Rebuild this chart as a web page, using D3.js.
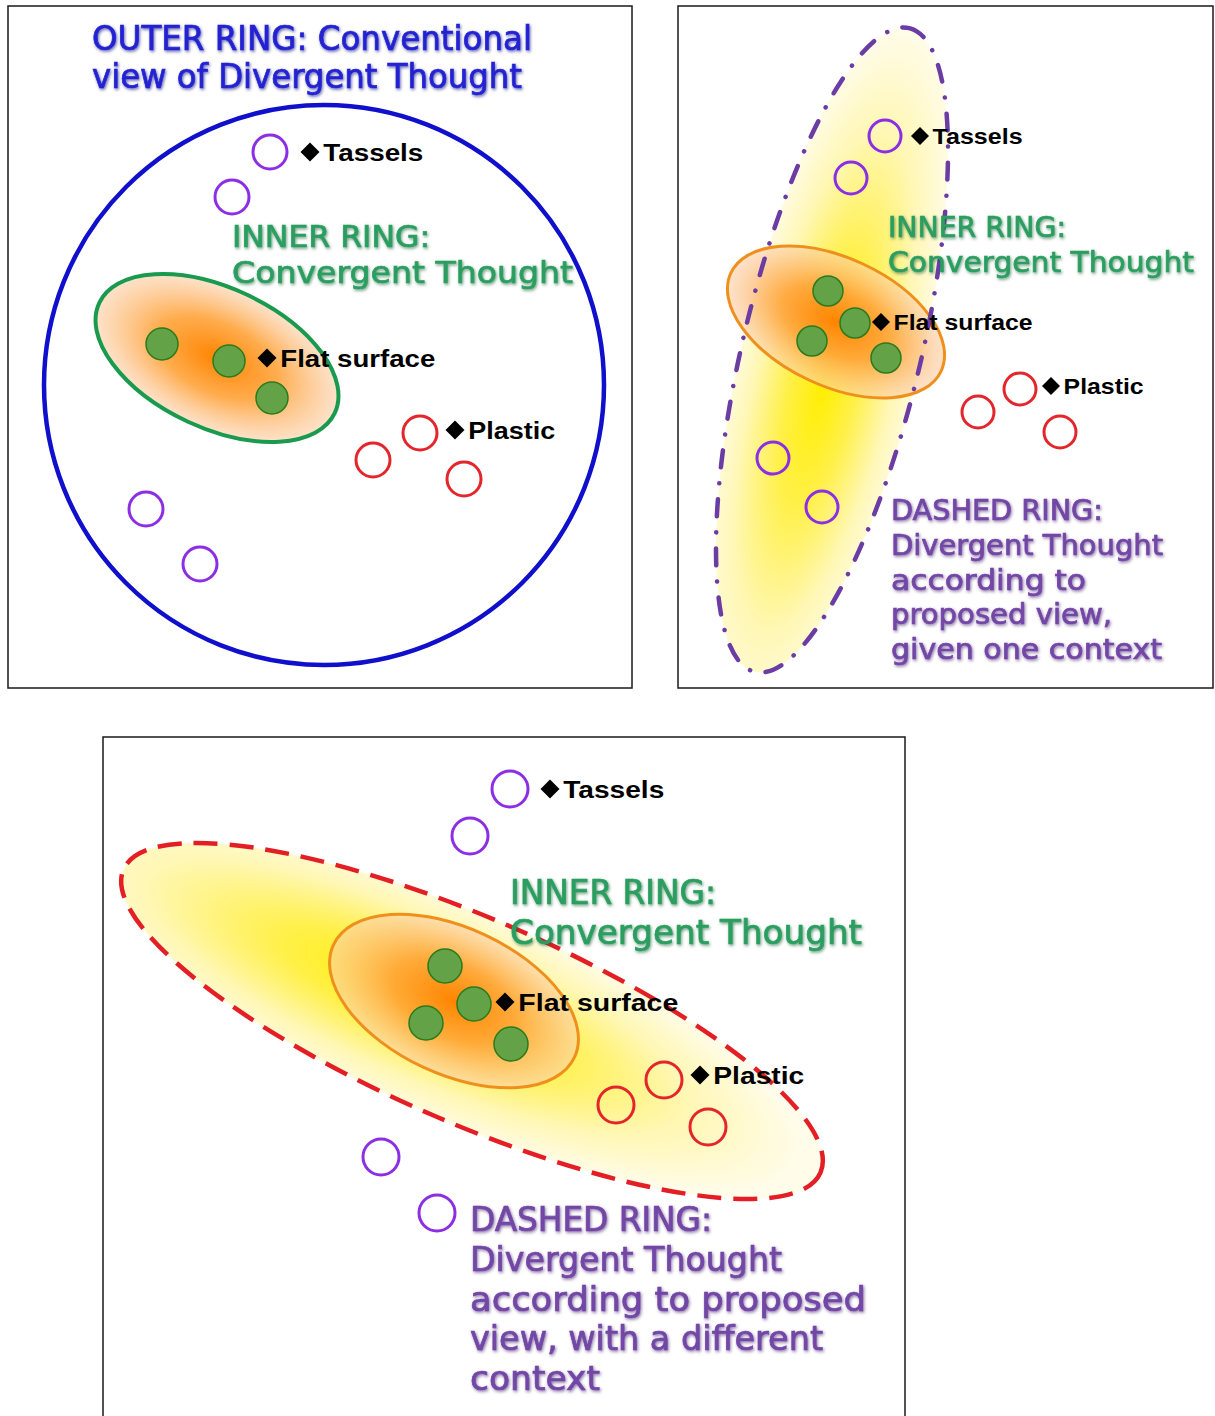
<!DOCTYPE html>
<html>
<head>
<meta charset="utf-8">
<script src="https://cdn.jsdelivr.net/npm/d3@7"></script>
<style>
  body { margin: 0; background: #fff; overflow: hidden; }
</style>
</head>
<body>
<svg id="chart"></svg>
<script>
// Divergent vs convergent thought, three panels

// ---- data (panel-local units) ----
var wordNames = ["Tassels", "Flat surface", "Plastic"];

// panel 1 : conventional view
var p1Tassels = [[262,146],[224,191],[138,503],[192,558]];
var p1Flat    = [[154,338],[221,355],[264,392]];
var p1Plastic = [[412,427],[365,454],[456,473]];
var p1Marks   = [[302,146],[259,352],[447,424]];   // diamond anchors
var p1Outer   = [316,379,280,280,0];                // cx, cy, rx, ry, angle
var p1Inner   = [209,352,130,70,25];

// panel 2 : proposed view, one context
var p2Tassels = [[207,130],[173,172],[95,452],[144,501]];
var p2Flat    = [[150,285],[177,317],[134,335],[208,352]];
var p2Plastic = [[342,383],[300,406],[382,426]];
var p2Marks   = [[242,130],[203,316],[373,380]];
var p2Dashed  = [154,344,331,89,-76.5];
var p2Inner   = [158,316,116,64,25];

// panel 3 : proposed view, different context
var p3Tassels = [[407,52],[367,99],[278,420],[334,476]];
var p3Flat    = [[342,229],[371,267],[323,286],[408,307]];
var p3Plastic = [[561,343],[513,368],[605,390]];
var p3Marks   = [[447,52],[402,265],[597,338]];
var p3Dashed  = [369,284,380,102,23.5];
var p3Inner   = [351,264,133,73,25];

var outerText  = ["OUTER RING: Conventional", "view of Divergent Thought"];
var innerText  = ["INNER RING:", "Convergent Thought"];
var dashedP2   = ["DASHED RING:", "Divergent Thought", "according to", "proposed view,", "given one context"];
var dashedP3   = ["DASHED RING:", "Divergent Thought", "according to proposed", "view, with a different", "context"];

// ---- layout ----
var W = 1215, H = 1416;
var svg = d3.select("#chart").attr("width", W).attr("height", H);
var defs = svg.append("defs");

var blue = "#2323d2", green = "#2c9e60", purple = "#7246a6";

function shadow(id, col) {
    var f = defs.append("filter").attr("id", id)
        .attr("x", "-5%").attr("y", "-25%").attr("width", "110%").attr("height", "150%");
    f.append("feGaussianBlur").attr("in", "SourceGraphic").attr("stdDeviation", 0.6).attr("result", "soft");
    f.append("feDropShadow").attr("in", "soft")
        .attr("dx", 1).attr("dy", 1.5).attr("stdDeviation", 1.6)
        .attr("flood-color", col).attr("flood-opacity", 0.6);
}
shadow("shBlue", "#00007a");
shadow("shGreen", "#0a5a2a");
shadow("shPurple", "#3a1a6a");

function yellowGrad(id, cx) {
    var g = defs.append("radialGradient").attr("id", id)
        .attr("cx", cx).attr("cy", 0.5).attr("r", 0.55);
    g.append("stop").attr("offset", "0%").attr("stop-color", "#ffee00");
    g.append("stop").attr("offset", "35%").attr("stop-color", "#fff04a");
    g.append("stop").attr("offset", "70%").attr("stop-color", "#fff7b4");
    g.append("stop").attr("offset", "100%").attr("stop-color", "#fffcea");
}
yellowGrad("yellow2", 0.45);
yellowGrad("yellow3", 0.42);

var ora = defs.append("radialGradient").attr("id", "orangeFill")
    .attr("cx", 0.5).attr("cy", 0.5).attr("r", 0.55);
ora.append("stop").attr("offset", "0%").attr("stop-color", "#ff8400");
ora.append("stop").attr("offset", "45%").attr("stop-color", "#ffa33a").attr("stop-opacity", 0.9);
ora.append("stop").attr("offset", "100%").attr("stop-color", "#fbd9bf").attr("stop-opacity", 0.55);

function panel(x0, y0, w, h) {
    var g = svg.append("g");
    g.sx = d3.scaleLinear().domain([0, w]).range([x0, x0 + w]);
    g.sy = d3.scaleLinear().domain([0, h]).range([y0, y0 + h]);
    g.append("rect").attr("x", x0).attr("y", y0).attr("width", w).attr("height", h)
        .attr("fill", "#fff").attr("stroke", "#1a1a1a").attr("stroke-width", 1.5);
    return g;
}

function ring(g, e, fill, stroke, sw, dash, cap) {
    var len = g.sx(1) - g.sx(0);
    g.append("ellipse")
        .attr("transform", "translate(" + g.sx(e[0]) + "," + g.sy(e[1]) + ") rotate(" + e[4] + ")")
        .attr("rx", e[2] * len).attr("ry", e[3] * len)
        .attr("fill", fill).attr("stroke", stroke).attr("stroke-width", sw)
        .attr("stroke-dasharray", dash).attr("stroke-linecap", cap || "butt");
}

function dots(g, pts, r, fill, stroke, sw) {
    g.selectAll(null).data(pts).enter().append("circle")
        .attr("cx", function(d) { return g.sx(d[0]); })
        .attr("cy", function(d) { return g.sy(d[1]); })
        .attr("r", r).attr("fill", fill).attr("stroke", stroke).attr("stroke-width", sw);
}

function marks(g, pts, size, widths) {
    var sym = d3.symbol().type(d3.symbolSquare).size(size * size / 2);
    g.selectAll(null).data(pts).enter().append("path")
        .attr("d", sym)
        .attr("transform", function(d) { return "translate(" + g.sx(d[0]) + "," + g.sy(d[1]) + ") rotate(45)"; })
        .attr("fill", "#000");
    g.selectAll(null).data(pts).enter().append("text")
        .attr("x", function(d) { return g.sx(d[0]) + size * 0.7; })
        .attr("y", function(d) { return g.sy(d[1]) + size * 0.45; })
        .attr("font-family", "'Liberation Sans', Arial, sans-serif")
        .attr("font-weight", "bold")
        .attr("font-size", size * 1.27)
        .attr("textLength", function(d, i) { return widths[i]; })
        .attr("lengthAdjust", "spacingAndGlyphs")
        .attr("fill", "#000")
        .text(function(d, i) { return wordNames[i]; });
}

function block(g, lines, x, y, step, size, col, filt, widths) {
    g.selectAll(null).data(lines).enter().append("text")
        .attr("x", g.sx(x))
        .attr("y", function(d, i) { return g.sy(y + i * step); })
        .attr("font-family", "'DejaVu Sans', sans-serif")
        .attr("font-size", size)
        .attr("fill", col)
        .attr("stroke", col)
        .attr("stroke-width", 0.7)
        .attr("filter", "url(#" + filt + ")")
        .attr("textLength", function(d, i) { return widths[i]; })
        .attr("lengthAdjust", "spacingAndGlyphs")
        .text(function(d) { return d; });
}

var purpleRing = "#8c2fe4", redRing = "#e3262b";
var dotFill = "#63a246", dotStroke = "#2b7a1c";

// ---- panel 1 ----
var g1 = panel(8, 6, 624, 682);
block(g1, outerText, 84, 44, 38, 33, blue, "shBlue", [440, 430]);
ring(g1, p1Outer, "none", "#1010cc", 4.5);
ring(g1, p1Inner, "url(#orangeFill)", "#1a9a4e", 4);
dots(g1, p1Flat, 16, dotFill, dotStroke, 1.5);
dots(g1, p1Tassels, 17, "none", purpleRing, 3);
dots(g1, p1Plastic, 17, "none", redRing, 3);
block(g1, innerText, 224, 241, 36, 31, green, "shGreen", [198, 341]);
marks(g1, p1Marks, 19, [100, 155, 87]);

// ---- panel 2 ----
var g2 = panel(678, 6, 535, 682);
ring(g2, p2Dashed, "url(#yellow2)", "none", 0);
ring(g2, p2Inner, "url(#orangeFill)", "#f0901c", 3);
ring(g2, p2Dashed, "none", "#6a3ca4", 4.5, "17 16 0.1 16", "round");
dots(g2, p2Flat, 15, dotFill, dotStroke, 1.5);
dots(g2, p2Tassels, 16, "none", purpleRing, 3);
dots(g2, p2Plastic, 16, "none", redRing, 3);
block(g2, innerText, 210, 231, 35, 29, green, "shGreen", [178, 306]);
block(g2, dashedP2, 213, 514, 34.75, 29, purple, "shPurple", [212, 272, 195, 221, 271]);
marks(g2, p2Marks, 18, [90, 139, 80]);

// ---- panel 3 ----
var g3 = panel(103, 737, 802, 700);
ring(g3, p3Dashed, "url(#yellow3)", "none", 0);
ring(g3, p3Inner, "url(#orangeFill)", "#f0901c", 3);
ring(g3, p3Dashed, "none", "#e31e24", 4.5, "24 12");
dots(g3, p3Flat, 17, dotFill, dotStroke, 1.5);
dots(g3, p3Tassels, 18, "none", purpleRing, 3);
dots(g3, p3Plastic, 18, "none", redRing, 3);
block(g3, innerText, 407, 167, 40, 33, green, "shGreen", [206, 352]);
block(g3, dashedP3, 367, 494, 39.75, 33, purple, "shPurple", [242, 312, 396, 353, 130]);
marks(g3, p3Marks, 19, [101, 160, 91]);
</script>
</body>
</html>
